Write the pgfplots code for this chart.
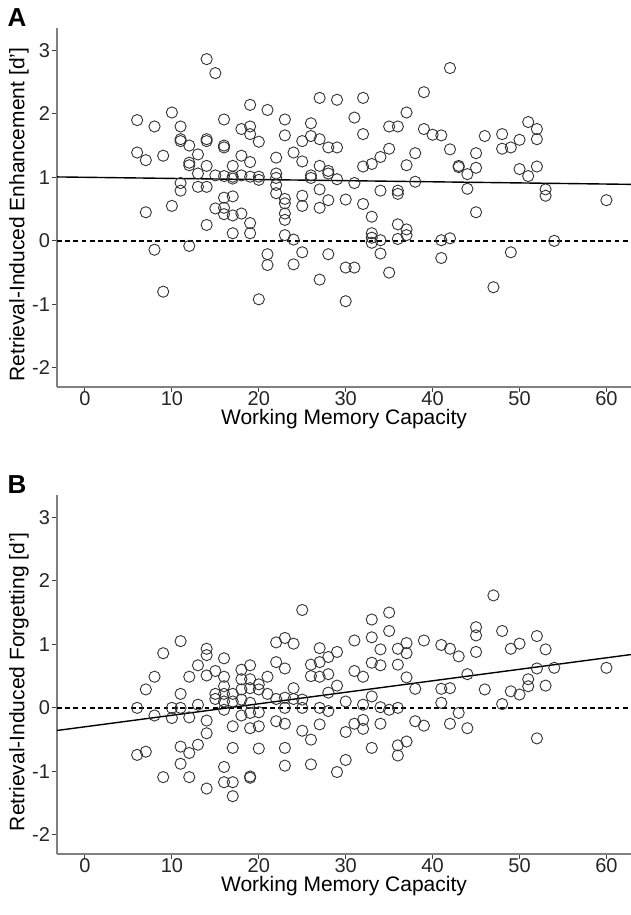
\documentclass[border=0pt]{standalone}
\usepackage{fontspec}
\setmainfont{Liberation Sans}
\usepackage{pgfplots}
\pgfplotsset{compat=1.18}

\pgfplotsset{
  wmc/.style={
    scale only axis,
    width=287pt, height=179.5pt,
    xmin=-3.22, xmax=62.83,
    ymin=-2.3, ymax=3.35,
    axis x line=bottom, axis y line=left,
    axis line style={-, draw=black!50, line width=1pt},
    xtick={0,10,...,60}, ytick={-2,-1,0,1,2,3},
    tick align=outside, major tick length=2.5pt,
    tick style={black!75, line width=0.5pt},
    /pgf/number format/assume math mode=true,
    ticklabel style={font=\fontsize{10}{12}\selectfont, text=black!85},
    xticklabel style={inner sep=0.5pt, yshift=0.8pt},
    yticklabel style={xshift=2.5pt},
    xlabel={Working Memory Capacity},
    every axis x label/.style={at={(axis description cs:0.5,0)}, yshift=-16pt, anchor=center, inner sep=0.5pt, font=\fontsize{10.5}{12}\selectfont},
    every axis y label/.style={at={(axis description cs:0,0.48)}, xshift=-19pt, rotate=90, anchor=center, font=\fontsize{10.5}{12}\selectfont},
    clip mode=individual,
  },
  pts/.style={only marks, mark=o, mark size=2.8pt, mark options={draw=black!80, line width=0.45pt}},
  zero/.style={black, line width=0.7pt, dash pattern=on 2.4pt off 1.7pt},
  fit/.style={black, line width=0.7pt},
}

\begin{document}
\begin{tikzpicture}
\useasboundingbox (-28.5pt,-264pt) rectangle (287pt,193.5pt);

% ---- panel A
\begin{axis}[wmc, at={(0,0)}, anchor=south west,
  ylabel={Retrieval-Induced Enhancement [d']}]
\addplot[zero] coordinates {(-3.22,0) (62.83,0)};
\addplot[fit] coordinates {(-3.22,1.006) (62.83,0.889)};
\addplot[pts] table {
x y
6 1.90
6 1.39
7 1.27
7 0.45
8 1.80
8 -0.14
9 1.34
9 -0.80
10 2.02
10 0.55
11 1.80
11 1.60
11 1.57
11 0.91
11 0.79
12 1.50
12 1.23
12 1.19
12 -0.08
13 1.36
13 1.06
13 0.85
14 2.86
14 1.60
14 1.57
14 1.18
14 0.85
14 0.25
15 2.64
15 1.03
15 0.51
16 1.91
16 1.50
16 1.47
16 1.02
16 0.68
16 0.52
16 0.42
17 1.18
17 1.01
17 0.98
17 0.70
17 0.40
17 0.12
18 1.76
18 1.34
18 1.03
18 0.43
19 2.14
19 1.80
19 1.68
19 1.24
19 1.01
19 0.28
19 0.12
20 1.56
20 1.01
20 0.96
20 -0.92
21 2.06
21 -0.21
21 -0.38
22 1.31
22 1.06
22 0.99
22 0.88
22 0.75
23 1.91
23 1.66
23 0.66
23 0.59
23 0.43
23 0.33
23 0.09
24 1.39
24 0.02
24 -0.37
25 1.57
25 1.25
25 0.71
25 0.55
25 -0.18
26 1.85
26 1.65
26 1.03
26 0.99
27 2.25
27 1.60
27 1.18
27 0.81
27 0.52
27 -0.61
28 1.47
28 1.10
28 1.06
28 0.64
28 -0.21
29 2.22
29 1.47
29 0.97
30 0.65
30 -0.42
30 -0.95
31 1.94
31 0.91
31 -0.42
32 2.25
32 1.68
32 1.17
32 0.58
33 1.21
33 0.38
33 0.12
33 0.05
33 -0.03
34 1.32
34 0.79
34 0.01
34 -0.20
35 1.80
35 1.45
35 -0.50
36 1.80
36 0.79
36 0.74
36 0.26
36 0.03
37 2.02
37 1.19
37 0.18
37 0.09
38 1.38
38 0.93
39 2.34
39 1.76
40 1.67
41 1.66
41 0.01
41 -0.27
42 2.72
42 1.44
42 0.04
43 1.18
43 1.16
44 1.05
44 0.82
45 1.38
45 1.15
45 0.45
46 1.65
47 -0.73
48 1.68
48 1.45
49 1.47
49 -0.18
50 1.59
50 1.13
51 1.87
51 1.02
52 1.76
52 1.60
52 1.17
53 0.81
53 0.71
54 0.00
60 0.64
};
\node[font=\fontsize{13}{15}\selectfont\bfseries] at (axis description cs:0,1) [xshift=-20pt, yshift=5pt] {A};
\end{axis}

% ---- panel B
\begin{axis}[wmc, at={(0,-233.5pt)}, anchor=south west,
  ylabel={Retrieval-Induced Forgetting [d']}]
\addplot[zero] coordinates {(-3.22,0) (62.83,0)};
\addplot[fit] coordinates {(-3.22,-0.356) (62.83,0.839)};
\addplot[pts] table {
x y
6 0.00
6 -0.74
7 0.29
7 -0.69
8 0.49
8 -0.12
9 0.86
9 -1.09
10 0.00
10 -0.16
11 1.05
11 0.22
11 0.00
11 -0.61
11 -0.88
12 0.49
12 -0.15
12 -0.71
12 -1.09
13 0.67
13 0.05
13 -0.58
14 0.93
14 0.83
14 0.51
14 -0.20
14 -0.40
14 -1.27
15 0.58
15 0.22
15 0.14
16 0.78
16 0.49
16 0.34
16 0.22
16 0.10
16 -0.03
16 -0.93
16 -1.17
17 0.22
17 0.10
17 -0.29
17 -0.63
17 -1.17
17 -1.39
18 0.60
18 0.45
18 0.29
18 0.13
18 -0.12
19 0.67
19 0.45
19 0.31
19 0.08
19 -0.08
19 -0.32
19 -1.10
19 -1.08
20 0.37
20 0.29
20 -0.07
20 -0.29
20 -0.64
21 0.49
21 0.22
22 1.03
22 0.72
22 0.14
22 -0.21
23 1.10
23 0.62
23 0.16
23 0.00
23 -0.25
23 -0.63
23 -0.91
24 1.01
24 0.31
24 0.14
25 1.54
25 0.13
25 0.00
25 -0.36
26 0.68
26 0.50
26 -0.50
26 -0.89
27 0.94
27 0.72
27 0.49
27 0.00
27 -0.26
28 0.80
28 0.53
28 0.24
28 -0.05
29 0.88
29 0.35
29 -1.01
30 0.10
30 -0.38
30 -0.82
31 1.06
31 0.58
31 -0.25
32 0.49
32 0.05
32 -0.19
32 -0.33
33 1.39
33 1.11
33 0.71
33 0.18
33 -0.63
34 0.92
34 0.67
34 0.01
34 -0.25
35 1.50
35 1.21
35 -0.03
36 0.93
36 0.68
36 0.00
36 -0.59
36 -0.75
37 1.02
37 0.86
37 0.48
37 -0.53
38 0.30
38 -0.21
39 1.06
39 -0.28
41 0.99
41 0.30
41 0.08
42 0.93
42 0.31
42 -0.25
43 0.81
43 -0.08
44 0.53
44 -0.32
45 1.27
45 1.14
45 0.88
46 0.29
47 1.77
48 1.21
48 0.06
49 0.93
49 0.26
50 1.01
50 0.21
51 0.45
51 0.34
52 1.13
52 0.62
52 -0.48
53 0.92
53 0.35
54 0.63
60 0.63
};
\node[font=\fontsize{13}{15}\selectfont\bfseries] at (axis description cs:0,1) [xshift=-20pt, yshift=5pt] {B};
\end{axis}
\end{tikzpicture}
\end{document}
